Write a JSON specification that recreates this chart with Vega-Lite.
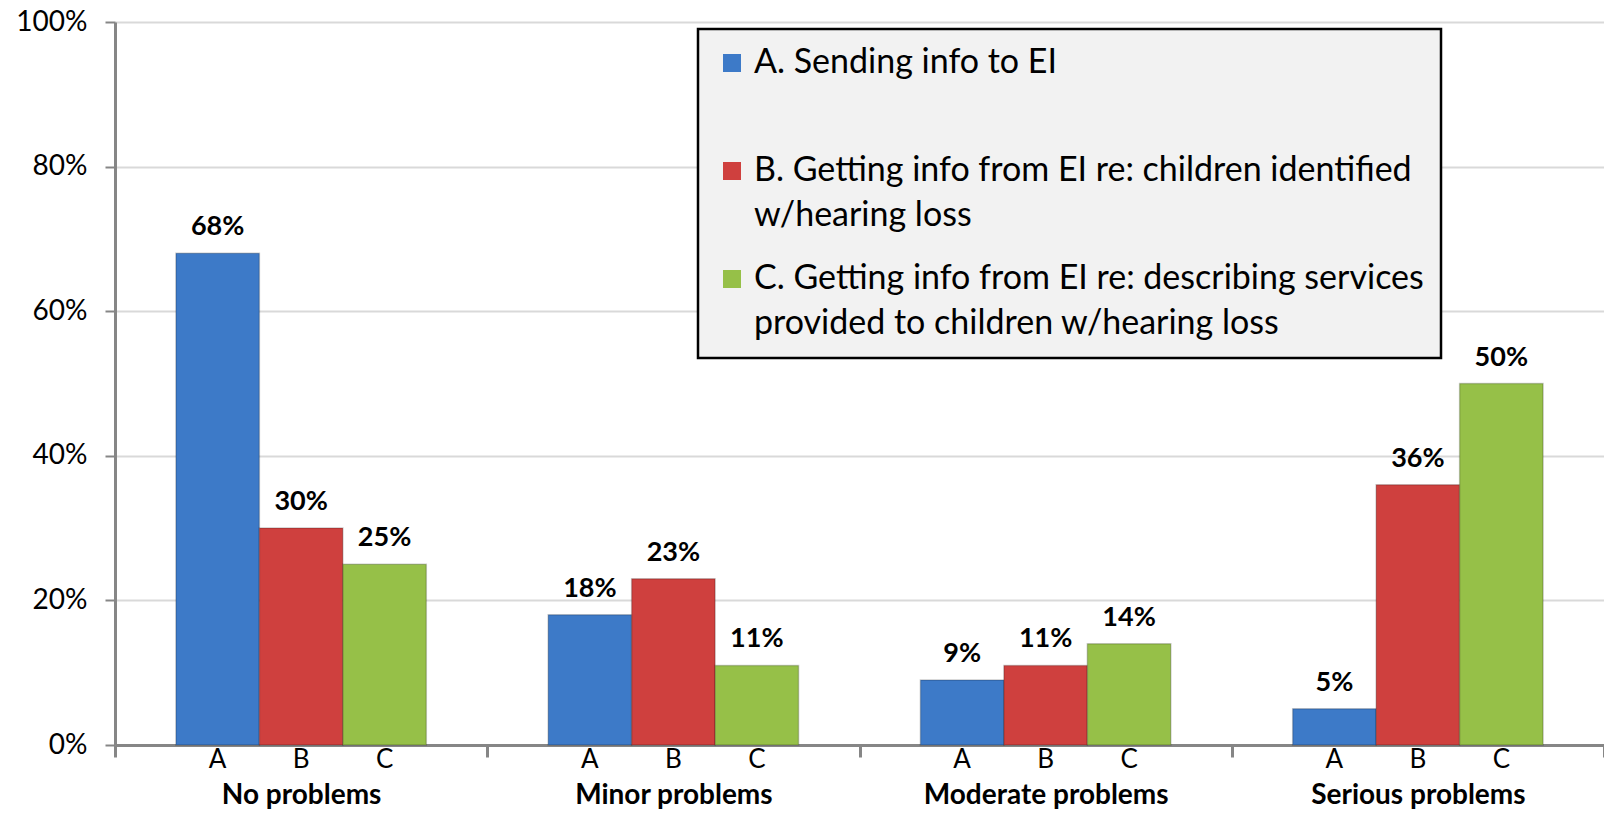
{
  "$schema": "https://vega.github.io/schema/vega-lite/v6.json",
  "width": 1489,
  "height": 723,
  "autosize": {"type": "none"},
  "padding": {"left": 115, "top": 22, "right": 0, "bottom": 69},
  "background": "white",
  "config": {
    "view": {"stroke": null},
    "font": "Lato",
    "axis": {"labelFont": "Lato", "labelColor": "#000000", "domainColor": "#868686", "tickColor": "#868686"}
  },
  "data": {
    "values": [
      {"category": "No problems", "code": "A", "series": "A. Sending info to EI| ", "value": 0.68},
      {"category": "No problems", "code": "B", "series": "B. Getting info from EI re: children identified|w/hearing loss", "value": 0.30},
      {"category": "No problems", "code": "C", "series": "C. Getting info from EI re: describing services|provided to children w/hearing loss", "value": 0.25},
      {"category": "Minor problems", "code": "A", "series": "A. Sending info to EI| ", "value": 0.18},
      {"category": "Minor problems", "code": "B", "series": "B. Getting info from EI re: children identified|w/hearing loss", "value": 0.23},
      {"category": "Minor problems", "code": "C", "series": "C. Getting info from EI re: describing services|provided to children w/hearing loss", "value": 0.11},
      {"category": "Moderate problems", "code": "A", "series": "A. Sending info to EI| ", "value": 0.09},
      {"category": "Moderate problems", "code": "B", "series": "B. Getting info from EI re: children identified|w/hearing loss", "value": 0.11},
      {"category": "Moderate problems", "code": "C", "series": "C. Getting info from EI re: describing services|provided to children w/hearing loss", "value": 0.14},
      {"category": "Serious problems", "code": "A", "series": "A. Sending info to EI| ", "value": 0.05},
      {"category": "Serious problems", "code": "B", "series": "B. Getting info from EI re: children identified|w/hearing loss", "value": 0.36},
      {"category": "Serious problems", "code": "C", "series": "C. Getting info from EI re: describing services|provided to children w/hearing loss", "value": 0.50}
    ]
  },
  "encoding": {
    "x": {
      "field": "category", "type": "nominal",
      "sort": ["No problems", "Minor problems", "Moderate problems", "Serious problems"],
      "scale": {"paddingInner": 0, "paddingOuter": 0},
      "axis": {
        "title": null, "labelAngle": 0, "labelFontSize": 28, "labelFontWeight": "bold",
        "labelBaseline": "alphabetic", "labelPadding": 46, "tickBand": "extent", "labelLimit": 400,
        "tickSize": 12, "tickWidth": 3, "domainWidth": 3, "grid": false
      }
    },
    "xOffset": {
      "field": "code", "type": "nominal",
      "scale": {"paddingInner": 0, "paddingOuter": 0.73}
    },
    "y": {
      "field": "value", "type": "quantitative",
      "scale": {"domain": [0, 1]},
      "axis": {
        "title": null, "format": ".0%", "values": [0, 0.2, 0.4, 0.6, 0.8, 1],
        "labelFontSize": 28, "labelPadding": 18, "tickSize": 10, "tickWidth": 2,
        "domainWidth": 3, "gridColor": "#d9d9d9", "gridWidth": 2
      }
    }
  },
  "layer": [
    {
      "mark": {"type": "bar", "stroke": "#00000033", "strokeWidth": 1.5},
      "encoding": {
        "color": {
          "field": "series", "type": "nominal",
          "scale": {"range": ["#3d7ac8", "#cf403e", "#96c048"]},
          "legend": {
            "title": null, "orient": "none", "legendX": 583, "legendY": 7,
            "fillColor": "#f2f2f2", "strokeColor": "#000000",
            "padding": 17, "labelFont": "Lato", "labelFontSize": 34, "labelColor": "#000000",
            "labelLimit": 900, "labelOffset": 5, "symbolType": "square", "symbolSize": 324,
            "symbolStrokeWidth": 0, "rowPadding": 29,
            "labelExpr": "split(datum.label, '|')",
            "encoding": {"labels": {"lineHeight": {"value": 45}}, "legend": {"strokeWidth": {"value": 2.5}}}
          }
        }
      }
    },
    {
      "mark": {"type": "text", "baseline": "alphabetic", "dy": -18, "fontSize": 27, "fontWeight": "bold", "font": "Lato", "color": "#000000"},
      "encoding": {"text": {"field": "value", "type": "quantitative", "format": ".0%"}}
    },
    {
      "mark": {"type": "text", "baseline": "alphabetic", "dy": 23, "fontSize": 26, "font": "Lato", "color": "#000000"},
      "encoding": {"y": {"datum": 0}, "text": {"field": "code"}}
    }
  ]
}
